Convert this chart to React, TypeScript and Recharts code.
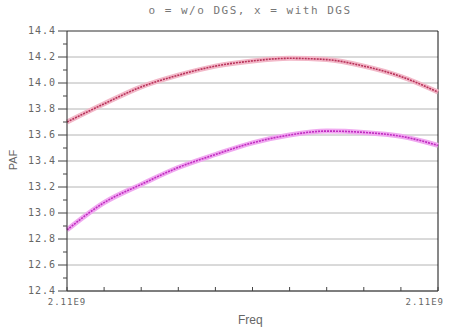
import { LineChart, Line, XAxis, YAxis, CartesianGrid, ReferenceLine } from 'recharts'

// sweep points across the (very narrow) band around 2.11E9
const freqSteps = [0, 1, 2, 3, 4, 5, 6, 7, 8, 9, 10]
// o = w/o DGS
const pafWithoutDgs = [13.7, 13.84, 13.97, 14.06, 14.13, 14.17, 14.19, 14.18, 14.13, 14.05, 13.93]
// x = with DGS
const pafWithDgs = [12.87, 13.08, 13.22, 13.35, 13.45, 13.54, 13.6, 13.63, 13.62, 13.59, 13.52]

const yTicks = [12.4, 12.5, 12.6, 12.7, 12.8, 12.9, 13.0, 13.1, 13.2, 13.3, 13.4, 13.5, 13.6, 13.7, 13.8, 13.9, 14.0, 14.1, 14.2, 14.3, 14.4]
const yMajor = [12.4, 12.6, 12.8, 13.0, 13.2, 13.4, 13.6, 13.8, 14.0, 14.2, 14.4]
const xLabel = '2.11E9'

const data = freqSteps.map((f, i) => ({ f, wo: pafWithoutDgs[i], w: pafWithDgs[i] }))

const FONT = '"DejaVu Sans Mono", monospace'

function YTick(props: any) {
  const { x, y, payload } = props
  const v = payload.value
  const major = yMajor.some((m) => Math.abs(m - v) < 1e-6)
  if (!major) {
    return <line x1={x - 4} x2={x} y1={y} y2={y} stroke="#444" strokeWidth={1} />
  }
  return (
    <g>
      <line x1={x - 9} x2={x} y1={y} y2={y} stroke="#444" strokeWidth={1} />
      <text x={x - 11} y={y + 3} textAnchor="end" fontSize={10} fill="#666" fontFamily={FONT} letterSpacing={1}>
        {v.toFixed(1)}
      </text>
    </g>
  )
}

function XTick(props: any) {
  const { x, y, payload } = props
  const v = payload.value
  const first = v === freqSteps[0]
  const last = v === freqSteps[freqSteps.length - 1]
  return (
    <g>
      <line x1={x} x2={x} y1={y - 4} y2={y} stroke="#444" strokeWidth={1} />
      {(first || last) && (
        <text x={last ? x + 6 : x} y={y + 14} textAnchor={last ? 'end' : 'middle'} fontSize={9} fill="#666" fontFamily={FONT} letterSpacing={1}>
          {xLabel}
        </text>
      )}
    </g>
  )
}

export default function App() {
  return (
    <div style={{ position: 'absolute', left: 0, top: 0, width: 460, height: 332, background: '#fff' }}>
      <LineChart width={460} height={332} data={data} margin={{ top: 31, right: 22, left: 0, bottom: 0 }}>
        <CartesianGrid vertical={false} horizontalValues={yMajor} stroke="#b4b4b4" />
        <XAxis
          dataKey="f"
          type="number"
          domain={[0, 10]}
          ticks={freqSteps}
          tick={<XTick />}
          tickSize={0}
          tickMargin={0}
          height={41}
          axisLine={{ stroke: '#222' }}
          interval={0}
        />
        <YAxis
          type="number"
          domain={[12.4, 14.4]}
          ticks={yTicks}
          tick={<YTick />}
          tickSize={0}
          tickMargin={0}
          width={67}
          axisLine={{ stroke: '#222' }}
          interval={0}
        />
        <ReferenceLine y={14.4} stroke="#555" />
        <ReferenceLine x={10} stroke="#111" />
        <Line dataKey="wo" type="monotone" stroke="#f2b8c8" strokeWidth={5} dot={false} isAnimationActive={false} />
        <Line dataKey="wo" type="monotone" stroke="#b8325a" strokeWidth={1.6} strokeDasharray="2 1" dot={false} isAnimationActive={false} />
        <Line dataKey="w" type="monotone" stroke="#f0a8f0" strokeWidth={5} dot={false} isAnimationActive={false} />
        <Line dataKey="w" type="monotone" stroke="#c02cc0" strokeWidth={1.6} strokeDasharray="2 1" dot={false} isAnimationActive={false} />
      </LineChart>
      <div style={{ position: 'absolute', left: 0, width: 460, top: 4, textAlign: 'center', paddingLeft: 40, boxSizing: 'border-box', fontFamily: FONT, fontSize: 11, color: '#777', letterSpacing: 1.5 }}>
        o = w/o DGS, x = with DGS
      </div>
      <div style={{ position: 'absolute', left: 238, top: 313, fontFamily: '"Liberation Sans", Arial, sans-serif', fontSize: 12, color: '#666' }}>
        Freq
      </div>
      <div style={{ position: 'absolute', left: -2, top: 154, transform: 'rotate(-90deg)', fontFamily: '"Liberation Sans", Arial, sans-serif', fontSize: 11, color: '#666', width: 30, textAlign: 'center' }}>
        PAF
      </div>
    </div>
  )
}
